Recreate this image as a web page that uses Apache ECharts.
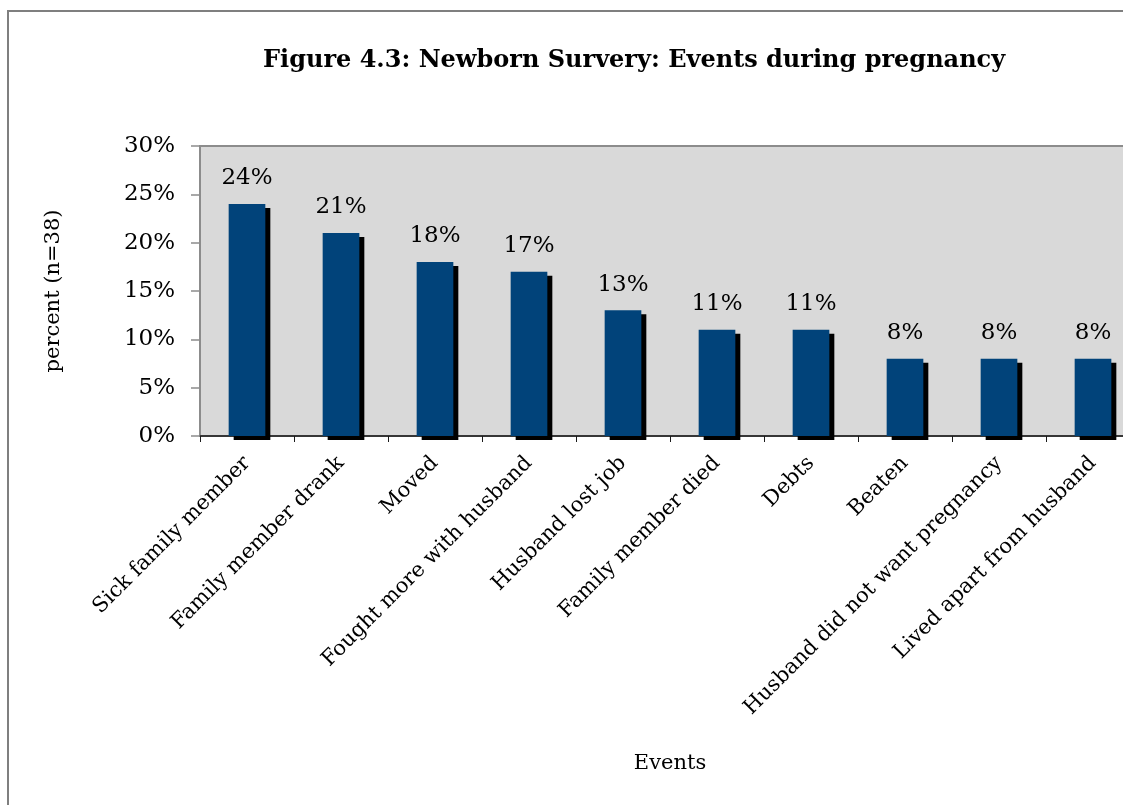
<!DOCTYPE html>
<html>
<head>
<meta charset="utf-8">
<script src="https://cdn.jsdelivr.net/npm/echarts@6/dist/echarts.min.js"></script>
<style>
  html, body { margin: 0; padding: 0; overflow: hidden; background: #fff; }
  #chart { width: 1140px; height: 805px; }
</style>
</head>
<body>
<div id="chart"></div>
<script>
// Events reported during pregnancy, share of respondents
const categories = [
  'Sick family member',
  'Family member drank',
  'Moved',
  'Fought more with husband',
  'Husband lost job',
  'Family member died',
  'Debts',
  'Beaten',
  'Husband did not want pregnancy',
  'Lived apart from husband'
];
const percentValues = [24, 21, 18, 17, 13, 11, 11, 8, 8, 8];
const yTicks = [0, 5, 10, 15, 20, 25, 30];

const titleText = 'Figure 4.3: Newborn Survery: Events during pregnancy';
const serif = '"DejaVu Serif", "Liberation Serif", serif';

const chart = echarts.init(document.getElementById('chart'), null, { renderer: 'canvas' });

chart.setOption({
  animation: false,
  backgroundColor: '#ffffff',
  title: {
    text: titleText,
    left: 258,
    top: 44,
    textStyle: { fontFamily: serif, fontWeight: 'bold', fontSize: 24, color: '#000' }
  },
  graphic: [
    {
      type: 'rect',
      z: -1,
      shape: { x: 8, y: 11, width: 1400, height: 1000 },
      style: { fill: 'none', stroke: '#7f7f7f', lineWidth: 2 }
    }
  ],
  grid: {
    left: 200,
    right: 0,
    top: 146,
    bottom: 805 - 436,
    show: true,
    backgroundColor: '#d9d9d9',
    borderColor: '#8c8c8c',
    borderWidth: 2
  },
  xAxis: {
    type: 'category',
    data: categories,
    name: 'Events',
    nameLocation: 'middle',
    nameGap: 317,
    nameTextStyle: { fontFamily: serif, fontSize: 21, color: '#000' },
    axisLine: { show: true, lineStyle: { color: '#1a1a1a', width: 1.5 } },
    axisTick: { show: true, length: 6, lineStyle: { color: '#1a1a1a' } },
    axisLabel: {
      interval: 0,
      rotate: 45,
      margin: 24,
      fontFamily: serif,
      fontSize: 21,
      color: '#000'
    },
    splitLine: { show: false }
  },
  yAxis: {
    type: 'value',
    min: 0,
    max: 30,
    interval: 5,
    name: 'percent (n=38)',
    nameLocation: 'middle',
    nameGap: 136,
    nameTextStyle: { fontFamily: serif, fontSize: 21, color: '#000' },
    axisLine: { show: true, lineStyle: { color: '#8c8c8c', width: 2 } },
    axisTick: { show: true, length: 9, lineStyle: { color: '#8c8c8c', width: 1.5 } },
    axisLabel: {
      margin: 25,
      fontFamily: serif,
      fontSize: 23,
      color: '#000',
      formatter: (v) => (yTicks.includes(v) ? v + '%' : '')
    },
    splitLine: { show: false }
  },
  series: [
    {
      type: 'bar',
      data: percentValues,
      barWidth: '39%',
      itemStyle: {
        color: '#01437a',
        borderWidth: 0,
        shadowColor: '#000000',
        shadowBlur: 0,
        shadowOffsetX: 5,
        shadowOffsetY: 4
      },
      label: {
        show: true,
        position: 'top',
        distance: 14,
        fontFamily: serif,
        fontSize: 23,
        color: '#000',
        formatter: (p) => p.value + '%'
      }
    }
  ]
});
</script>
</body>
</html>
